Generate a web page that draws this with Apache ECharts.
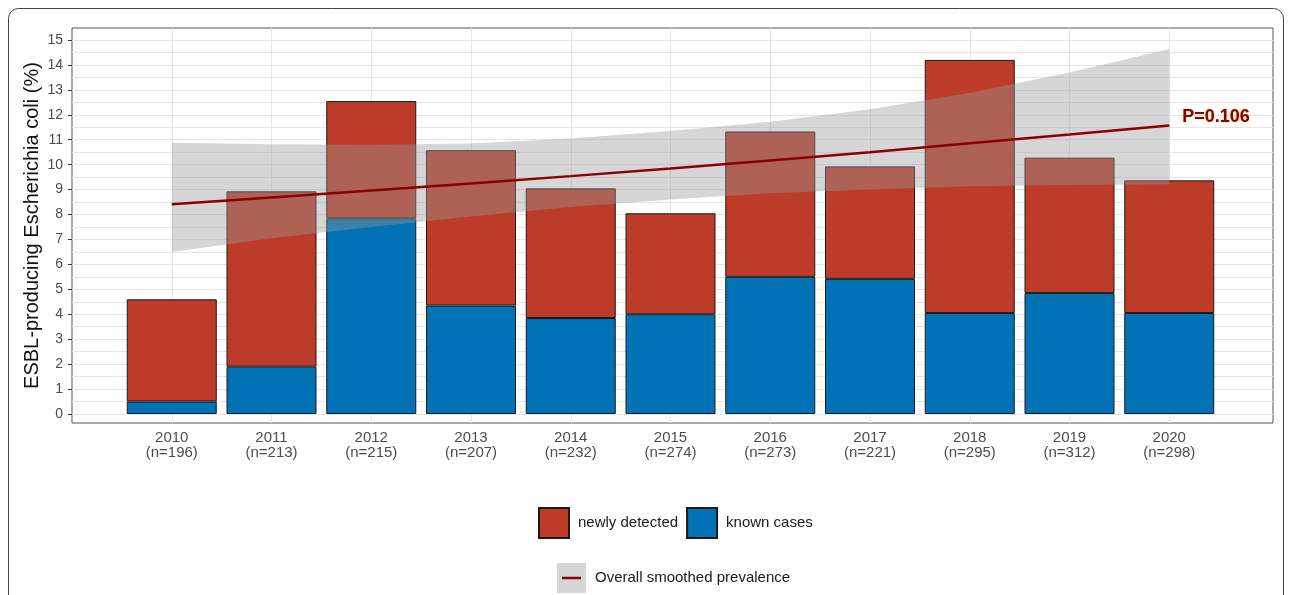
<!DOCTYPE html>
<html>
<head>
<meta charset="utf-8">
<script src="https://cdn.jsdelivr.net/npm/echarts@6.0.0/dist/echarts.min.js"></script>
<style>
  html, body { margin: 0; padding: 0; background: #ffffff; }
  #chart { width: 1292px; height: 595px; }
</style>
</head>
<body>
<div id="chart"></div>
<script>
// Survey years and number of isolates tested per year
const years = [2010, 2011, 2012, 2013, 2014, 2015, 2016, 2017, 2018, 2019, 2020];
const sampleSizes = [196, 213, 215, 207, 232, 274, 273, 221, 295, 312, 298];

// ESBL-producing E. coli prevalence (%), split by case type
const knownCases    = [0.5, 1.9, 7.85, 4.35, 3.85, 4.0, 5.5, 5.42, 4.05, 4.85, 4.05];
const newlyDetected = [4.1, 7.03, 4.7, 6.23, 5.2, 4.05, 5.83, 4.51, 10.15, 5.43, 5.32];

// Overall smoothed prevalence with its confidence band
const smoothedPrevalence = [8.41, 8.68, 8.96, 9.24, 9.54, 9.85, 10.17, 10.5, 10.86, 11.21, 11.57];
const bandLower = [6.5, 7.05, 7.5, 7.92, 8.3, 8.6, 8.85, 9.0, 9.13, 9.18, 9.21];
const bandUpper = [10.88, 10.82, 10.8, 10.85, 11.05, 11.35, 11.72, 12.22, 12.88, 13.7, 14.64];
const trendPValue = 'P=0.106';

// Axis tick values
const yTickValues = [0, 1, 2, 3, 4, 5, 6, 7, 8, 9, 10, 11, 12, 13, 14, 15];

const FONT = 'Liberation Sans, Arial, sans-serif';
const RED = '#BC3C29';
const BLUE = '#0072B5';
const DARKRED = '#8B0000';

// Rows are [value, year]; the value comes first so stacking runs along the y axis
const rows = (vals) => years.map((y, i) => [vals[i], y]);
const ENCODE = { x: 1, y: 0 };

// Horizontal gridlines at every whole and half percent, vertical ones at each year
const hGrid = [];
yTickValues.forEach(v => { hGrid.push({ yAxis: v }); if (v < 15) hGrid.push({ yAxis: v + 0.5 }); });
const vGrid = years.map(y => ({ xAxis: y }));

const chart = echarts.init(document.getElementById('chart'), null, { renderer: 'canvas' });

chart.setOption({
  animation: false,
  backgroundColor: '#ffffff',
  textStyle: { fontFamily: FONT },
  grid: {
    left: 72, right: 19, top: 28, bottom: 172,
    show: true, borderColor: '#555555', borderWidth: 1, backgroundColor: '#ffffff'
  },
  xAxis: {
    type: 'value',
    min: 2009, max: 2021.04,
    axisLine: { show: false },
    splitLine: { show: false },
    axisTick: { show: true, customValues: years, length: 4, lineStyle: { color: '#333333', width: 1 } },
    axisLabel: {
      customValues: years,
      margin: 7,
      color: '#4d4d4d', fontSize: 15, lineHeight: 15, fontFamily: FONT,
      formatter: (v) => {
        const i = years.indexOf(Math.round(v));
        return i < 0 ? '' : years[i] + '\n(n=' + sampleSizes[i] + ')';
      }
    }
  },
  yAxis: {
    type: 'value',
    min: -0.36, max: 15.48,
    name: 'ESBL-producing Escherichia coli (%)',
    nameLocation: 'middle',
    nameGap: 30,
    nameMoveOverlap: false,
    nameTextStyle: { color: '#111111', fontSize: 20, fontFamily: FONT },
    axisLine: { show: false },
    splitLine: { show: false },
    axisTick: { show: true, customValues: yTickValues, length: 4, lineStyle: { color: '#333333', width: 1 } },
    axisLabel: {
      customValues: yTickValues,
      margin: 9,
      color: '#4d4d4d', fontSize: 14, fontFamily: FONT,
      formatter: (v) => String(Math.round(v))
    }
  },
  legend: [
    {
      data: ['newly detected', 'known cases'],
      left: 538, top: 507, padding: 0,
      orient: 'horizontal',
      itemWidth: 30, itemHeight: 30, itemGap: 8,
      icon: 'rect',
      selectedMode: false,
      textStyle: { color: '#1a1a1a', fontSize: 15, fontFamily: FONT, padding: [0, 0, 0, 4] }
    },
    {
      data: [{ name: 'Overall smoothed prevalence', icon: 'rect', itemStyle: { color: '#d6d6d6', borderWidth: 0 } }],
      left: 557, top: 563, padding: 0,
      itemWidth: 29, itemHeight: 30,
      selectedMode: false,
      textStyle: { color: '#1a1a1a', fontSize: 15, fontFamily: FONT, padding: [0, 0, 0, 4] }
    }
  ],
  graphic: [
    {
      type: 'rect', silent: true, z: -10,
      shape: { x: 8.5, y: 8.5, width: 1275, height: 640, r: 10 },
      style: { fill: 'none', stroke: '#444444', lineWidth: 1 }
    },
    {
      // red trend stroke inside the smoothed-prevalence legend key
      type: 'line', silent: true, z: 100,
      shape: { x1: 562, y1: 578, x2: 581, y2: 578 },
      style: { stroke: DARKRED, lineWidth: 2.5 }
    }
  ],
  series: [
    {
      // panel gridlines
      name: 'gridlines',
      type: 'line',
      data: [],
      z: 1,
      silent: true,
      markLine: {
        z: 1,
        silent: true,
        animation: false,
        symbol: ['none', 'none'],
        label: { show: false },
        lineStyle: { color: '#e6e6e6', type: 'solid', width: 1 },
        data: hGrid.concat(vGrid)
      }
    },
    {
      name: 'known cases',
      type: 'bar',
      stack: 'cases',
      barWidth: 90,
      z: 2,
      encode: ENCODE,
      itemStyle: { color: BLUE, borderColor: '#1a1a1a', borderWidth: 1 },
      data: rows(knownCases)
    },
    {
      name: 'newly detected',
      type: 'bar',
      stack: 'cases',
      barWidth: 90,
      z: 2,
      encode: ENCODE,
      itemStyle: { color: RED, borderColor: '#1a1a1a', borderWidth: 1 },
      data: rows(newlyDetected)
    },
    {
      name: 'band lower',
      type: 'line',
      stack: 'band',
      symbol: 'none',
      z: 3,
      silent: true,
      encode: ENCODE,
      lineStyle: { opacity: 0, width: 0 },
      data: rows(bandLower)
    },
    {
      name: 'Overall smoothed prevalence',
      type: 'line',
      stack: 'band',
      symbol: 'none',
      z: 3,
      silent: true,
      color: '#d6d6d6',
      encode: ENCODE,
      lineStyle: { opacity: 0, width: 0 },
      areaStyle: { color: 'rgba(153,153,153,0.4)', opacity: 1 },
      data: years.map((y, i) => [bandUpper[i] - bandLower[i], y])
    },
    {
      name: 'smoothed trend',
      type: 'line',
      symbol: 'none',
      z: 4,
      silent: true,
      encode: ENCODE,
      lineStyle: { color: DARKRED, width: 2.5 },
      data: rows(smoothedPrevalence),
      endLabel: {
        show: true,
        formatter: trendPValue,
        color: DARKRED,
        fontWeight: 'bold',
        fontSize: 18,
        fontFamily: FONT,
        distance: 13,
        offset: [0, -8],
        textShadowColor: 'rgba(210,170,40,0.7)',
        textShadowBlur: 2
      }
    }
  ]
});
</script>
</body>
</html>
